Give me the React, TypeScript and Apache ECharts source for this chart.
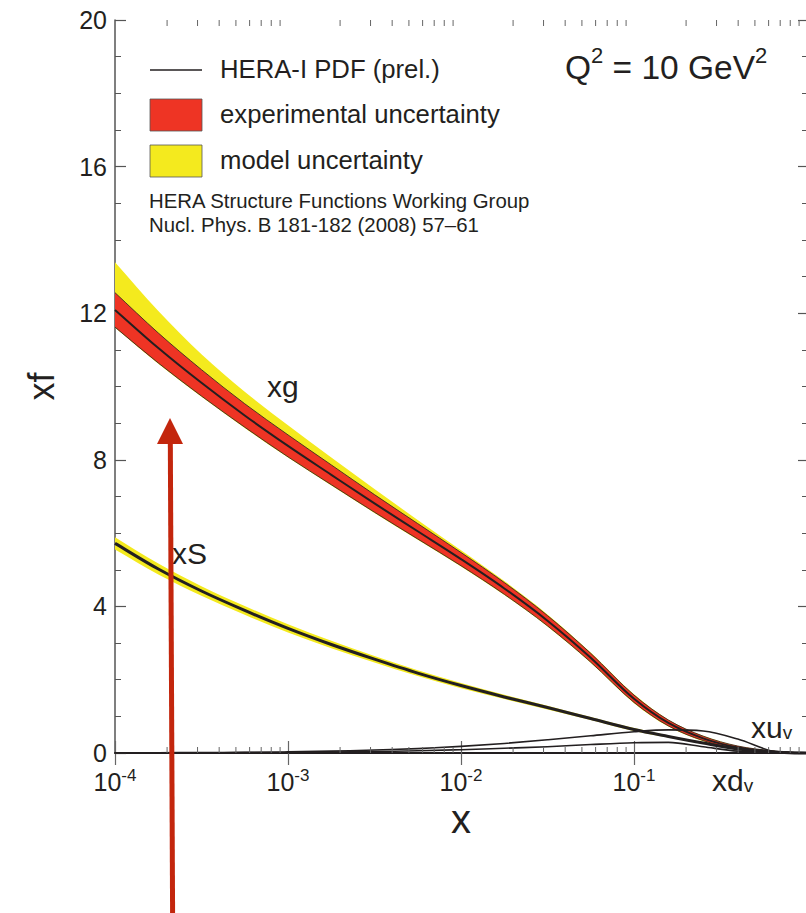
import React, { useEffect, useRef } from 'react';
import * as echarts from 'echarts';

// ---- data ----
const xGrid = [1e-4, 1.78e-4, 3.16e-4, 5.62e-4, 1e-3, 1.78e-3, 3.16e-3, 5.62e-3, 0.01, 0.0178, 0.0316, 0.0562, 0.1, 0.158, 0.251, 0.398, 0.631, 0.794, 1];
const xgCentral = [12.09, 11.05, 10.1, 9.21, 8.38, 7.59, 6.81, 6.05, 5.29, 4.49, 3.61, 2.6, 1.48, 0.82, 0.4, 0.15, 0.04, 0.015, 0];
const xgExpLow = [11.62, 10.64, 9.74, 8.89, 8.08, 7.32, 6.57, 5.84, 5.11, 4.33, 3.47, 2.48, 1.38, 0.74, 0.34, 0.11, 0.02, 0.005, 0];
const xgExpHigh = [12.56, 11.46, 10.46, 9.53, 8.68, 7.86, 7.05, 6.26, 5.47, 4.65, 3.75, 2.72, 1.58, 0.9, 0.46, 0.19, 0.06, 0.025, 0];
const xgModHigh = [13.39, 12.06, 10.88, 9.86, 8.94, 8.06, 7.2, 6.36, 5.53, 4.69, 3.78, 2.74, 1.6, 0.91, 0.47, 0.19, 0.06, 0.025, 0];
const xgModLow = [11.6, 10.62, 9.72, 8.87, 8.06, 7.3, 6.55, 5.82, 5.09, 4.31, 3.45, 2.46, 1.36, 0.72, 0.32, 0.09, 0.01, 0, 0];
const xsCentral = [5.72, 5.02, 4.42, 3.89, 3.4, 2.96, 2.56, 2.18, 1.84, 1.53, 1.24, 0.94, 0.64, 0.45, 0.27, 0.11, 0.03, 0.01, 0];
const xsModHigh = [5.89, 5.17, 4.55, 4.01, 3.51, 3.06, 2.65, 2.26, 1.91, 1.59, 1.29, 0.98, 0.68, 0.48, 0.29, 0.12, 0.04, 0.01, 0];
const xsModLow = [5.55, 4.87, 4.29, 3.77, 3.29, 2.86, 2.47, 2.1, 1.77, 1.47, 1.19, 0.9, 0.6, 0.42, 0.25, 0.1, 0.02, 0.01, 0];
const xuvCentral = [0.005, 0.008, 0.012, 0.018, 0.03, 0.05, 0.08, 0.12, 0.18, 0.26, 0.36, 0.47, 0.58, 0.63, 0.6, 0.38, 0.05, 0.005, 0];
const xdvCentral = [0.003, 0.005, 0.007, 0.01, 0.015, 0.025, 0.04, 0.06, 0.09, 0.13, 0.17, 0.23, 0.28, 0.29, 0.17, 0.05, 0.01, 0.003, 0];
const xMinorTicks = [
  2e-4, 3e-4, 4e-4, 5e-4, 6e-4, 7e-4, 8e-4, 9e-4,
  2e-3, 3e-3, 4e-3, 5e-3, 6e-3, 7e-3, 8e-3, 9e-3,
  0.02, 0.03, 0.04, 0.05, 0.06, 0.07, 0.08, 0.09,
  0.2, 0.3, 0.4, 0.5, 0.6, 0.7, 0.8, 0.9,
];
const yMin = 0;
const yMax = 20;
const yInterval = 4;

const FONT = "'Liberation Sans', Arial, Helvetica, sans-serif";
const INK = '#231f20';
const RED = '#ee3424';
const YELLOW = '#f4ea1e';
const ARROW = '#c3260d';

type Pt = [number, number];

function segments(pts: Pt[]) {
  const n = pts.length;
  const d: number[] = [];
  const m: number[] = new Array(n).fill(0);
  for (let i = 0; i < n - 1; i++) {
    const h = pts[i + 1][0] - pts[i][0];
    d[i] = h === 0 ? 0 : (pts[i + 1][1] - pts[i][1]) / h;
  }
  m[0] = d[0];
  m[n - 1] = d[n - 2];
  for (let i = 1; i < n - 1; i++) {
    m[i] = d[i - 1] * d[i] <= 0 ? 0 : (d[i - 1] + d[i]) / 2;
  }
  for (let i = 0; i < n - 1; i++) {
    if (d[i] === 0) {
      m[i] = 0;
      m[i + 1] = 0;
    } else {
      const a = m[i] / d[i];
      const b = m[i + 1] / d[i];
      const s = a * a + b * b;
      if (s > 9) {
        const t = 3 / Math.sqrt(s);
        m[i] = t * a * d[i];
        m[i + 1] = t * b * d[i];
      }
    }
  }
  const segs: { c1: Pt; c2: Pt; p: Pt }[] = [];
  for (let i = 0; i < n - 1; i++) {
    const h = pts[i + 1][0] - pts[i][0];
    segs.push({
      c1: [pts[i][0] + h / 3, pts[i][1] + (m[i] * h) / 3],
      c2: [pts[i + 1][0] - h / 3, pts[i + 1][1] - (m[i + 1] * h) / 3],
      p: pts[i + 1],
    });
  }
  return segs;
}

const f = (v: number) => v.toFixed(2);

function linePath(pts: Pt[]) {
  let s = `M${f(pts[0][0])},${f(pts[0][1])}`;
  for (const sg of segments(pts)) {
    s += `C${f(sg.c1[0])},${f(sg.c1[1])} ${f(sg.c2[0])},${f(sg.c2[1])} ${f(sg.p[0])},${f(sg.p[1])}`;
  }
  return s;
}

function bandPath(hi: Pt[], lo: Pt[]) {
  let s = linePath(hi);
  const n = lo.length;
  s += `L${f(lo[n - 1][0])},${f(lo[n - 1][1])}`;
  const segs = segments(lo);
  for (let i = segs.length - 1; i >= 0; i--) {
    const sg = segs[i];
    const to = lo[i];
    s += `C${f(sg.c2[0])},${f(sg.c2[1])} ${f(sg.c1[0])},${f(sg.c1[1])} ${f(to[0])},${f(to[1])}`;
  }
  return s + 'Z';
}

function toPx(api: any, ys: number[]): Pt[] {
  return xGrid.map((x, i) => api.coord([x, ys[i]]) as Pt);
}

function bandSeries(lo: number[], hi: number[], fill: string, z: number) {
  return {
    type: 'custom',
    silent: true,
    z,
    data: [[0.01, 1]],
    encode: { x: 0, y: 1 },
    renderItem: (_p: any, api: any) => ({
      type: 'path',
      shape: { pathData: bandPath(toPx(api, hi), toPx(api, lo)) },
      style: { fill, stroke: 'none' },
    }),
  };
}

function curveSeries(ys: number[], stroke: string, width: number, z: number) {
  return {
    type: 'custom',
    silent: true,
    z,
    data: [[0.01, 1]],
    encode: { x: 0, y: 1 },
    renderItem: (_p: any, api: any) => ({
      type: 'path',
      shape: { pathData: linePath(toPx(api, ys)) },
      style: { fill: 'none', stroke, lineWidth: width, lineJoin: 'round' },
    }),
  };
}

export default function App() {
  const ref = useRef<HTMLDivElement>(null);

  useEffect(() => {
    document.body.style.margin = '0';
    const chart = echarts.init(ref.current!, undefined, { renderer: 'svg' });

    const xLabelFormatter = (v: number) => {
      const e = Math.round(Math.log10(v));
      if (e === 0) return '';
      return `{b|10}{s|${e}}`;
    };

    const option: any = {
      animation: false,
      backgroundColor: '#ffffff',
      grid: { left: 115, top: 20, right: -1, bottom: 160, containLabel: false, outerBoundsMode: 'none' },
      xAxis: [
        {
          type: 'log',
          logBase: 10,
          min: 1e-4,
          max: 1,
          position: 'bottom',
          axisLine: { lineStyle: { color: INK, width: 2 } },
          axisTick: { inside: true, length: 12, lineStyle: { color: '#666', width: 1.2 } },
          minorTick: { show: false },
          splitLine: { show: false },
          axisLabel: {
            formatter: xLabelFormatter,
            margin: 14,
            color: INK,
            rich: {
              b: { fontSize: 25, fontFamily: FONT, color: INK, lineHeight: 30 },
              s: { fontSize: 17, fontFamily: FONT, color: INK, lineHeight: 17, verticalAlign: 'top' },
            },
          },
          name: 'x',
          nameLocation: 'middle',
          nameGap: 44,
          nameTextStyle: { fontSize: 40, fontFamily: FONT, color: INK },
        },
        {
          type: 'log',
          logBase: 10,
          min: 1e-4,
          max: 1,
          position: 'top',
          axisLine: { lineStyle: { color: INK, width: 1.5 } },
          axisTick: { inside: true, length: 12, lineStyle: { color: '#666', width: 1.2 } },
          axisLabel: { show: false },
          splitLine: { show: false },
        },
      ],
      yAxis: [
        {
          type: 'value',
          min: yMin,
          max: yMax,
          interval: yInterval,
          position: 'left',
          axisLine: { show: true, lineStyle: { color: '#555', width: 1.5 } },
          axisTick: { inside: true, length: 11, lineStyle: { color: '#555', width: 1.2 } },
          minorTick: { show: true, splitNumber: 4, length: 6, lineStyle: { color: '#555', width: 1 } },
          splitLine: { show: false },
          axisLabel: { fontSize: 25, fontFamily: FONT, color: INK, margin: 8 },
          name: 'xf',
          nameLocation: 'middle',
          nameRotate: 90,
          nameGap: 56,
          nameTextStyle: { fontSize: 36, fontFamily: FONT, color: INK },
        },
        {
          type: 'value',
          min: yMin,
          max: yMax,
          interval: yInterval,
          position: 'right',
          axisLine: { show: true, lineStyle: { color: '#555', width: 1.5 } },
          axisTick: { inside: true, length: 9, lineStyle: { color: '#555', width: 1.2 } },
          minorTick: { show: true, splitNumber: 4, length: 5, lineStyle: { color: '#555', width: 1 } },
          splitLine: { show: false },
          axisLabel: { show: false },
        },
      ],
      series: [
        bandSeries(xgModLow, xgModHigh, YELLOW, 2),
        bandSeries(xgExpLow, xgExpHigh, RED, 3),
        curveSeries(xgExpLow, '#3a2a20', 0.9, 4),
        curveSeries(xgExpHigh, '#3a2a20', 0.9, 4),
        curveSeries(xgCentral, INK, 2, 5),
        bandSeries(xsModLow, xsModHigh, YELLOW, 2),
        curveSeries(xsCentral, INK, 3, 5),
        curveSeries(xuvCentral, INK, 1.6, 5),
        curveSeries(xdvCentral, INK, 1.6, 5),
        {
          type: 'custom',
          silent: true,
          z: 6,
          data: xMinorTicks.map((v) => [v, 0]),
          encode: { x: 0, y: 1 },
          renderItem: (params: any, api: any) => {
            const cs = params.coordSys;
            const px = api.coord([api.value(0), 0])[0];
            const bottom = cs.y + cs.height;
            return {
              type: 'group',
              children: [
                { type: 'line', shape: { x1: px, y1: bottom, x2: px, y2: bottom - 6 }, style: { stroke: '#666', lineWidth: 1 } },
                { type: 'line', shape: { x1: px, y1: cs.y, x2: px, y2: cs.y + 6 }, style: { stroke: '#666', lineWidth: 1 } },
              ],
            };
          },
        },
      ],
      graphic: [
        { type: 'line', shape: { x1: 150, y1: 70, x2: 202, y2: 70 }, style: { stroke: INK, lineWidth: 1.5 } },
        { type: 'rect', shape: { x: 150, y: 99, width: 52, height: 32 }, style: { fill: RED, stroke: '#555', lineWidth: 0.8 } },
        { type: 'rect', shape: { x: 150, y: 145, width: 52, height: 32 }, style: { fill: YELLOW, stroke: '#555', lineWidth: 0.8 } },
        { type: 'text', x: 220, y: 69, style: { text: 'HERA-I PDF (prel.)', fontSize: 25.7, fontFamily: FONT, fill: INK, verticalAlign: 'middle' } },
        { type: 'text', x: 220, y: 114, style: { text: 'experimental uncertainty', fontSize: 25.7, fontFamily: FONT, fill: INK, verticalAlign: 'middle' } },
        { type: 'text', x: 220, y: 160, style: { text: 'model uncertainty', fontSize: 25.7, fontFamily: FONT, fill: INK, verticalAlign: 'middle' } },
        { type: 'text', x: 149, y: 201, style: { text: 'HERA Structure Functions Working Group', fontSize: 20.4, fontFamily: FONT, fill: INK, verticalAlign: 'middle' } },
        { type: 'text', x: 149, y: 225, style: { text: 'Nucl. Phys. B 181-182 (2008) 57\u201361', fontSize: 20.4, fontFamily: FONT, fill: INK, verticalAlign: 'middle' } },
        {
          type: 'text',
          x: 565,
          y: 64,
          style: {
            text: '{n|Q}{s|2}{n| = 10 GeV}{s|2}',
            fill: INK,
            verticalAlign: 'middle',
            rich: {
              n: { fontSize: 33.5, fontFamily: FONT, fill: INK, lineHeight: 40, verticalAlign: 'bottom' },
              s: { fontSize: 22, fontFamily: FONT, fill: INK, lineHeight: 22, verticalAlign: 'top' },
            },
          },
        },
        { type: 'text', x: 267, y: 386, style: { text: 'xg', fontSize: 30, fontFamily: FONT, fill: INK, verticalAlign: 'middle' } },
        { type: 'text', x: 172, y: 553, style: { text: 'xS', fontSize: 30, fontFamily: FONT, fill: INK, verticalAlign: 'middle' } },
        {
          type: 'text',
          x: 751,
          y: 727,
          style: {
            text: '{n|xu}{s|v}',
            fill: INK,
            verticalAlign: 'middle',
            rich: {
              n: { fontSize: 30, fontFamily: FONT, fill: INK, lineHeight: 30, verticalAlign: 'top' },
              s: { fontSize: 19, fontFamily: FONT, fill: INK, lineHeight: 19, verticalAlign: 'bottom' },
            },
          },
        },
        {
          type: 'text',
          x: 712,
          y: 780,
          style: {
            text: '{n|xd}{s|v}',
            fill: INK,
            verticalAlign: 'middle',
            rich: {
              n: { fontSize: 30, fontFamily: FONT, fill: INK, lineHeight: 30, verticalAlign: 'top' },
              s: { fontSize: 19, fontFamily: FONT, fill: INK, lineHeight: 19, verticalAlign: 'bottom' },
            },
          },
        },
        { type: 'line', z: 100, shape: { x1: 172.6, y1: 913, x2: 170.3, y2: 438 }, style: { stroke: ARROW, lineWidth: 5 } },
        { type: 'polygon', z: 100, shape: { points: [[170, 418], [157, 444], [183, 444]] }, style: { fill: ARROW } },
      ],
    };

    chart.setOption(option);
    return () => chart.dispose();
  }, []);

  return <div ref={ref} style={{ position: 'absolute', left: 0, top: 0, width: 806, height: 913 }} />;
}
